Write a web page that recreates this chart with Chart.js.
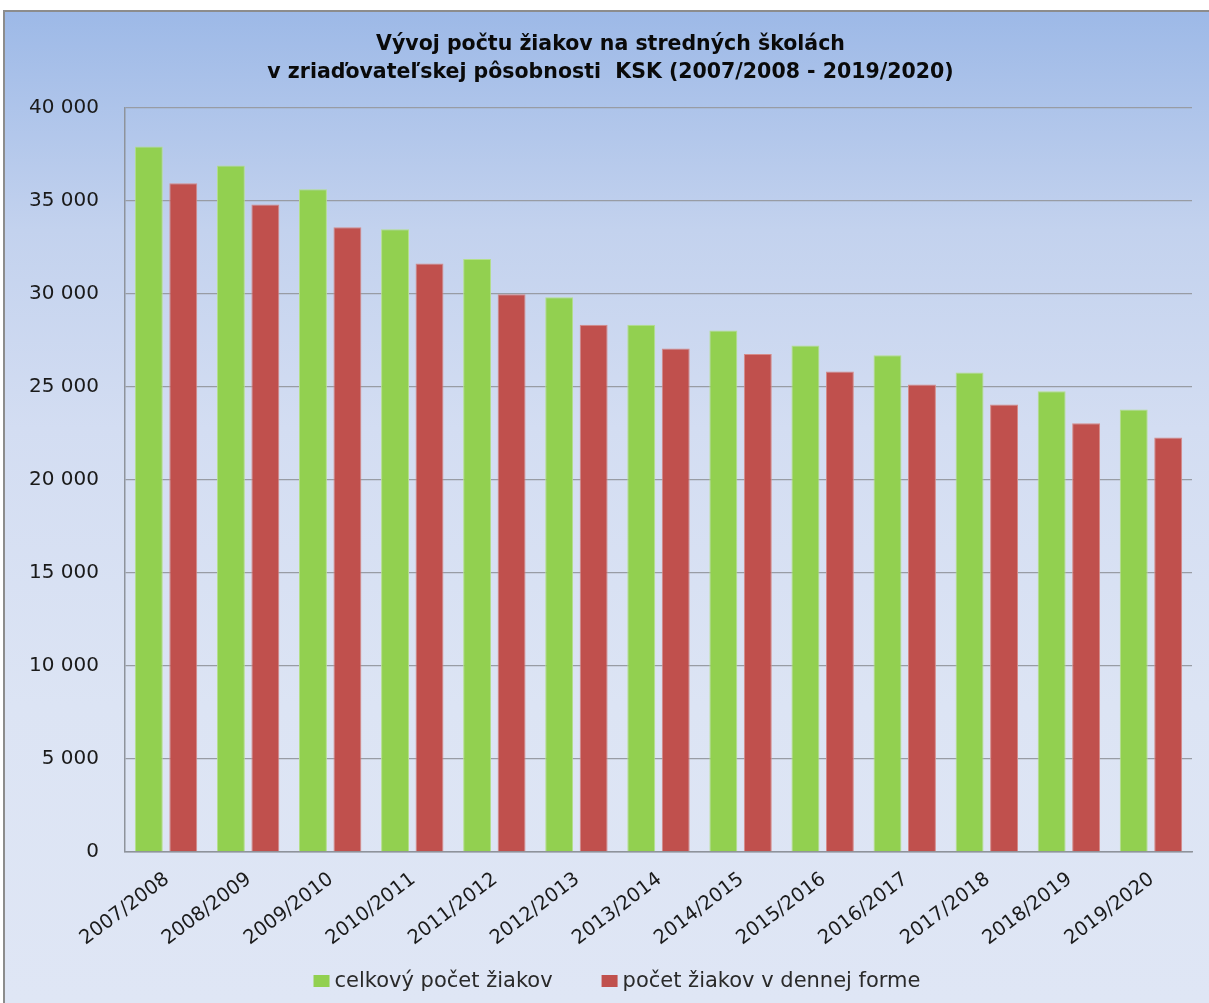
<!DOCTYPE html>
<html>
<head>
<meta charset="utf-8">
<script src="https://cdn.jsdelivr.net/npm/chart.js@4/dist/chart.umd.min.js"></script>
<style>
  body { margin: 0; background: #fff; }
  #wrap {
    position: absolute; left: 3px; top: 10px;
    width: 1204px; height: 991px;
    border-left: 2px solid #8c8c8c; border-top: 2px solid #8c8c8c;
    background: linear-gradient(to bottom, #9db9e7 0%, #c3d2ee 22%, #d3ddf2 42%, #dce4f4 70%, #dfe6f5 100%);
  }
  canvas { display: block; }
</style>
</head>
<body>
<div id="wrap"><canvas id="chart" width="1204" height="991" style="width:1204px;height:991px"></canvas></div>
<script>
const years = ["2007/2008", "2008/2009", "2009/2010", "2010/2011", "2011/2012", "2012/2013",
  "2013/2014", "2014/2015", "2015/2016", "2016/2017", "2017/2018", "2018/2019", "2019/2020"]
const totalStudents = [37900, 36880, 35600, 33450, 31850, 29800, 28330, 28020, 27210, 26680, 25760, 24750, 23770]
const dailyStudents = [35920, 34780, 33560, 31620, 29960, 28330, 27050, 26750, 25810, 25110, 24040, 23030, 22270]
const titleLines = ["Vývoj počtu žiakov na stredných školách", "v zriaďovateľskej pôsobnosti  KSK (2007/2008 - 2019/2020)"]

const FONT = "'DejaVu Sans', sans-serif"

function spaced(v) {
  return String(v).replace(/\B(?=(\d{3})+(?!\d))/g, " ")
}

// legend drawn under the axis labels, centred like the original
const bottomLegend = {
  id: "bottomLegend",
  afterDraw(chart) {
    const ctx = chart.ctx
    const boxW = 16, boxH = 12, textGap = 5, itemGap = 49
    const y = 969
    ctx.save()
    ctx.font = "21px " + FONT
    ctx.textBaseline = "middle"
    const items = chart.data.datasets.map((ds) => ({
      color: ds.backgroundColor,
      text: ds.label,
      width: boxW + textGap + ctx.measureText(ds.label).width
    }))
    const total = items.reduce((s, it) => s + it.width, 0) + itemGap * (items.length - 1)
    let x = 612 - total / 2
    items.forEach((it) => {
      ctx.fillStyle = it.color
      ctx.fillRect(x, y - boxH / 2, boxW, boxH)
      ctx.fillStyle = "#2a2a2a"
      ctx.fillText(it.text, x + boxW + textGap, y + 1)
      x += it.width + itemGap
    })
    ctx.restore()
  }
}

new Chart(document.getElementById("chart"), {
  type: "bar",
  data: {
    labels: years,
    datasets: [
      {
        label: "celkový počet žiakov",
        data: totalStudents,
        backgroundColor: "#92d050",
        borderColor: "#b4df8a",
        borderWidth: 1
      },
      {
        label: "počet žiakov v dennej forme",
        data: dailyStudents,
        backgroundColor: "#c0504d",
        borderColor: "#d58a88",
        borderWidth: 1
      }
    ]
  },
  options: {
    responsive: false,
    animation: false,
    layout: { padding: { left: 24, right: 17, top: 18, bottom: 0 } },
    datasets: {
      bar: { categoryPercentage: 0.84, barPercentage: 0.81 }
    },
    plugins: {
      legend: { display: false },
      tooltip: { enabled: false },
      title: {
        display: true,
        text: titleLines,
        color: "#0a0a0a",
        font: { family: FONT, size: 20.5, weight: "bold", lineHeight: 1.4 },
        padding: { top: 0, bottom: 20 }
      }
    },
    scales: {
      x: {
        grid: { display: false },
        border: { display: true, color: "#8e939b", width: 1.5 },
        ticks: {
          color: "#1a1a1a",
          font: { family: FONT, size: 19.5 },
          minRotation: 37,
          maxRotation: 37,
          labelOffset: 1,
          padding: 8
        },
        afterFit(scale) { scale.height = 151 }
      },
      y: {
        min: 0,
        max: 40000,
        ticks: {
          stepSize: 5000,
          color: "#1a1a1a",
          font: { family: FONT, size: 20 },
          padding: 26,
          callback: (v) => spaced(v)
        },
        grid: { color: "#989ca4", lineWidth: 1.3, drawTicks: false },
        border: { display: true, color: "#8e939b", width: 1.5 },
        afterFit(scale) { scale.width = 96 }
      }
    }
  },
  plugins: [bottomLegend]
})
</script>
</body>
</html>
